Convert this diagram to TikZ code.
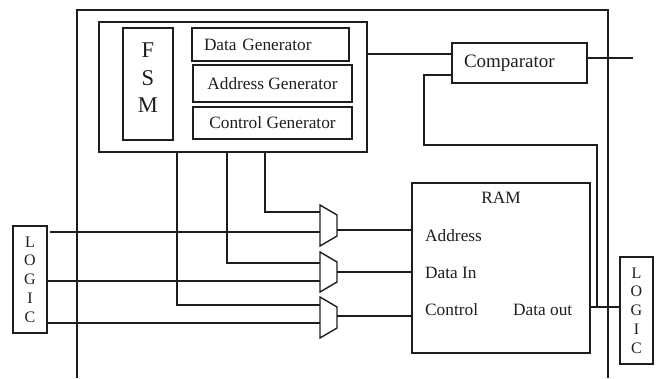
\documentclass[tikz,border=0pt]{standalone}
\usepackage{fontspec}
\setmainfont{Liberation Serif}
\definecolor{inkc}{RGB}{30,30,30}
\begin{document}
\begin{tikzpicture}[x=1pt,y=-1pt,
  frame/.style={draw=inkc, line width=1.5pt, inner sep=0pt, outer sep=0pt},
  txt/.style={text=inkc, font=\fontsize{17.3}{20}\selectfont, inner sep=0pt},
  wire/.style={draw=inkc, line width=1.4pt, line join=miter}]
\useasboundingbox (0,0) rectangle (656,378);

% outer chip outline (open at the bottom)
\draw[wire] (77,378) |- (608,10) -- (608,378);

% BIST controller block
\node[frame, minimum width=268pt, minimum height=130pt] (grp) at (233,87) {};
\node[frame, minimum width=50pt, minimum height=112pt] (fsm) at (148,84) {};
\node[txt, font=\fontsize{22.5}{27.5}\selectfont, align=center] (fsmtxt) at (148,78) {F\\S\\M};
\node[frame, txt, text width=133pt, align=left, inner xsep=12pt, minimum height=33pt] (dgen) at (270.5,44.5) {Data Generator};
\node[frame, txt, minimum width=159pt, minimum height=37pt] (agen) at (272.5,83.5) {Address Generator};
\node[frame, txt, minimum width=159pt, minimum height=32pt] (cgen) at (272.5,123) {Control Generator};

% comparator
\node[frame, txt, font=\fontsize{19}{22}\selectfont, text width=111pt, align=left, inner xsep=12pt, minimum height=40pt] (cmp) at (519.5,63) {Comparator};

% memory under test
\node[frame, minimum width=178pt, minimum height=170pt] (ram) at (501,268) {};
\node[txt] (ramlbl) at (501,198) {RAM};
\node[txt, anchor=west] (addrlbl) at (425,236) {Address};
\node[txt, anchor=west] (dinlbl) at (425,273) {Data In};
\node[txt, anchor=west] (ctllbl) at (425,310) {Control};
\node[txt, anchor=west] (doutlbl) at (513,310) {Data out};

% surrounding logic
\node[frame, txt, font=\fontsize{16}{18.7}\selectfont, align=center, minimum width=34pt, minimum height=107pt] (logicL) at (30,279.5) {L\\O\\G\\I\\C};
\node[frame, txt, font=\fontsize{16}{18.7}\selectfont, align=center, minimum width=33pt, minimum height=107pt] (logicR) at (636.5,310.5) {L\\O\\G\\I\\C};

% input multiplexers
\draw[wire] (320,205) -- (337,215) -- (337,236) -- (320,246) -- cycle;
\draw[wire] (320,252) -- (337,262) -- (337,282) -- (320,292) -- cycle;
\draw[wire] (320,297) -- (337,307) -- (337,328) -- (320,338) -- cycle;
\coordinate (m1s) at (320,212); \coordinate (m1d) at (320,232); \coordinate (m1o) at (337,230);
\coordinate (m2s) at (320,263); \coordinate (m2d) at (320,281); \coordinate (m2o) at (337,272);
\coordinate (m3s) at (320,305); \coordinate (m3d) at (320,323); \coordinate (m3o) at (337,316);

% test paths from the controller
\draw[wire] (grp.south west) ++(166,0) |- (m1s);
\draw[wire] (grp.south west) ++(128,0) |- (m2s);
\draw[wire] (grp.south west) ++(78,0) |- (m3s);

% functional paths from the logic
\draw[wire] (m1d -| logicL.east) ++(3,0) -- (m1d);
\draw[wire] (m2d -| logicL.east) -- (m2d);
\draw[wire] (m3d -| logicL.east) -- (m3d);

% multiplexer outputs into the RAM
\draw[wire] (m1o) -- (m1o -| ram.west);
\draw[wire] (m2o) -- (m2o -| ram.west);
\draw[wire] (m3o) -- (m3o -| ram.west);

% data out, comparator and feedback
\coordinate (dout) at ([yshift=-39pt]ram.east);
\draw[wire] (dout) -- (dout -| logicR.west);
\coordinate (cin) at ([yshift=9pt]cmp.west);
\draw[wire] (grp.east |- cin) -- (cin);
\coordinate (cout) at ([yshift=5pt,xshift=46pt]cmp.east);
\draw[wire] (cout -| cmp.east) -- (cout);
\draw[wire] ([yshift=-12pt]cmp.west) -| ++(-28,70) -| ([xshift=7pt]dout);
\end{tikzpicture}
\end{document}
